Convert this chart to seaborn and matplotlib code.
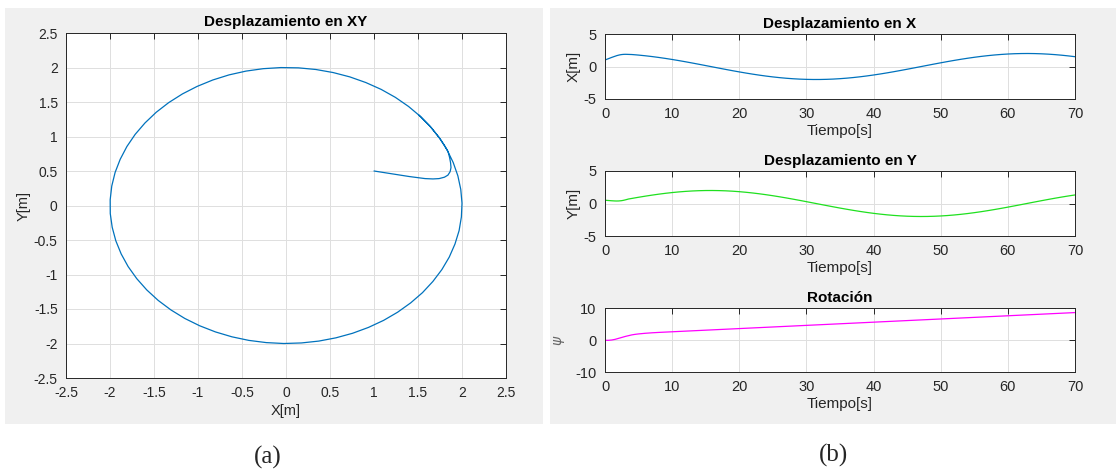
import matplotlib
matplotlib.use("Agg")
import matplotlib.pyplot as plt
from matplotlib.patches import Rectangle
from matplotlib.ticker import FormatStrFormatter
import pandas as pd
import seaborn as sns

# ---- trajectory samples (time in s, position in m, heading in rad) ----
t_s = [0, 0.5, 1, 1.5, 1.75, 2, 2.25, 2.5, 2.75, 3, 3.25, 3.5, 4, 4.5,
       5, 6, 7, 8, 9, 10, 11, 12, 13, 14, 15, 16, 17, 18, 19, 20,
       21, 22, 23, 24, 25, 26, 27, 28, 29, 30, 31, 32, 33, 34, 35,
       36, 37, 38, 39, 40, 41, 42, 43, 44, 45, 46, 47, 48, 49, 50,
       51, 52, 53, 54, 55, 56, 57, 58, 59, 60, 61, 62, 63, 64, 65,
       66, 67, 68, 69, 70]
x_m = [1.00, 1.20, 1.40, 1.58, 1.67, 1.74, 1.80, 1.84, 1.865, 1.875, 1.87, 1.86, 1.842, 1.801,
       1.755, 1.651, 1.530, 1.393, 1.243, 1.081, 0.907, 0.725, 0.535, 0.340, 0.141, -0.058,
       -0.258, -0.454, -0.647, -0.832, -1.010, -1.177, -1.333, -1.475, -1.602, -1.714, -1.808,
       -1.884, -1.942, -1.980, -1.998, -1.997, -1.975, -1.934, -1.873, -1.794, -1.696, -1.582,
       -1.452, -1.307, -1.150, -0.981, -0.802, -0.615, -0.422, -0.224, -0.025, 0.175, 0.373,
       0.567, 0.756, 0.937, 1.109, 1.269, 1.417, 1.551, 1.669, 1.771, 1.855, 1.920, 1.967,
       1.993, 2.000, 1.986, 1.953, 1.900, 1.829, 1.739, 1.631, 1.508]
y_m = [0.50, 0.46, 0.42, 0.39, 0.385, 0.39, 0.41, 0.44, 0.49, 0.55, 0.62, 0.69, 0.779, 0.870,
       0.959, 1.129, 1.288, 1.435, 1.567, 1.683, 1.782, 1.864, 1.927, 1.971, 1.995, 1.999,
       1.983, 1.948, 1.893, 1.819, 1.726, 1.617, 1.491, 1.351, 1.197, 1.031, 0.855,
       0.670, 0.479, 0.282, 0.083, -0.117, -0.316, -0.511, -0.702, -0.885, -1.060, -1.224,
       -1.376, -1.514, -1.637, -1.743, -1.832, -1.903, -1.955, -1.987, -2.000, -1.992, -1.965,
       -1.918, -1.852, -1.767, -1.665, -1.546, -1.411, -1.263, -1.101, -0.929, -0.748, -0.559, -0.364,
       -0.166, 0.034, 0.233, 0.430, 0.623, 0.810, 0.988, 1.157, 1.314]
psi = [-0.10, -0.10, 0.00, 0.20, 0.35, 0.50, 0.65, 0.80, 0.95, 1.10, 1.23, 1.35, 1.60, 1.77,
       1.90, 2.10, 2.25, 2.37, 2.47, 2.57, 2.67, 2.77, 2.87, 2.97, 3.07, 3.17,
       3.27, 3.37, 3.47, 3.57, 3.67, 3.77, 3.87, 3.97, 4.07, 4.17, 4.27,
       4.37, 4.47, 4.57, 4.67, 4.77, 4.87, 4.97, 5.07, 5.17, 5.27, 5.37,
       5.47, 5.57, 5.67, 5.77, 5.87, 5.97, 6.07, 6.17, 6.27, 6.37, 6.47,
       6.57, 6.67, 6.77, 6.87, 6.97, 7.07, 7.17, 7.27, 7.37, 7.47, 7.57, 7.67,
       7.77, 7.87, 7.97, 8.07, 8.17, 8.27, 8.37, 8.47, 8.57]

xy_ticks = [-2.5, -2, -1.5, -1, -0.5, 0, 0.5, 1, 1.5, 2, 2.5]
time_ticks = [0, 10, 20, 30, 40, 50, 60, 70]
pos_ticks = [-5, 0, 5]
rot_ticks = [-10, 0, 10]

titles = ["Desplazamiento en XY", "Desplazamiento en X", "Desplazamiento en Y", "Rotación"]
captions = ["(a)", "(b)"]

df = pd.DataFrame({"t": t_s, "x": x_m, "y": y_m, "psi": psi})

sns.set_theme(style="white")
plt.rcParams["font.family"] = ["Liberation Sans", "DejaVu Sans"]
plt.rcParams["axes.unicode_minus"] = False
plt.rcParams["mathtext.fontset"] = "dejavusans"

W, H = 1116, 471
fig = plt.figure(figsize=(W / 100, H / 100), dpi=100, facecolor="white")


def rect(l, t, r, b):
    return [l / W, 1 - b / H, (r - l) / W, (b - t) / H]


# grey window backgrounds on a full-figure backdrop axes
bg = fig.add_axes([0, 0, 1, 1], zorder=-10)
bg.set_axis_off()
bg.set_xlim(0, W)
bg.set_ylim(H, 0)
for (l, t, r, b) in [(5, 8, 543, 424), (550, 8, 1116, 424)]:
    bg.add_patch(Rectangle((l, t), r - l, b - t, facecolor="#F0F0F0", edgecolor="none"))

EDGE = "#262626"


def style(ax, fs):
    ax.set_facecolor("white")
    ax.grid(True, color="#DFDFDF", lw=0.7)
    ax.set_axisbelow(True)
    for s in ax.spines.values():
        s.set_visible(True)
        s.set_color(EDGE)
        s.set_linewidth(0.7)
    ax.tick_params(direction="in", length=4, width=0.7, top=True, right=True,
                   colors=EDGE, labelsize=fs, labelcolor=EDGE, pad=6)
    ax.xaxis.set_major_formatter(FormatStrFormatter("%g"))
    ax.yaxis.set_major_formatter(FormatStrFormatter("%g"))


# ---- (a) planar trajectory ----
axA = fig.add_axes(rect(66, 33, 506, 378))
sns.lineplot(data=df, x="x", y="y", sort=False, estimator=None, ax=axA,
             color="#0072BD", lw=0.9)
axA.set_xlim(-2.5, 2.5)
axA.set_ylim(-2.5, 2.5)
axA.set_xticks(xy_ticks)
axA.set_yticks(xy_ticks)
style(axA, 10)
axA.set_title(titles[0], fontsize=11, fontweight="bold", color="black", pad=5)
axA.set_xlabel("X[m]", fontsize=10.5, color=EDGE, labelpad=3)
axA.set_ylabel("Y[m]", fontsize=10.5, color=EDGE, labelpad=2)

# ---- (b) time histories ----
panels = [
    (rect(605, 34, 1075, 99), "x", "#0072BD", pos_ticks, "X[m]", titles[1]),
    (rect(605, 171, 1075, 236), "y", "#1FE01F", pos_ticks, "Y[m]", titles[2]),
    (rect(605, 308, 1075, 372), "psi", "#FF00FF", rot_ticks, r"$\psi$", titles[3]),
]
for pos, col, colour, yt, ylab, ttl in panels:
    ax = fig.add_axes(pos)
    sns.lineplot(data=df, x="t", y=col, ax=ax, color=colour, lw=0.9)
    ax.set_xlim(0, 70)
    ax.set_ylim(yt[0], yt[-1])
    ax.set_xticks(time_ticks)
    ax.set_yticks(yt)
    style(ax, 10.5)
    ax.set_title(ttl, fontsize=11, fontweight="bold", color="black", pad=4)
    ax.set_xlabel("Tiempo[s]", fontsize=11, color=EDGE, labelpad=2)
    if col == "psi":
        ax.set_ylabel(ylab, fontsize=10, color="#666666", labelpad=6)
    else:
        ax.set_ylabel(ylab, fontsize=11, color=EDGE, labelpad=2)

# captions under each window
fig.text(268 / W, 1 - 457 / H, captions[0], ha="center", va="center",
         fontsize=18, family="Liberation Serif")
fig.text(833 / W, 1 - 455 / H, captions[1], ha="center", va="center",
         fontsize=18, family="Liberation Serif")

fig.savefig("out.png", dpi=100, facecolor="white")
